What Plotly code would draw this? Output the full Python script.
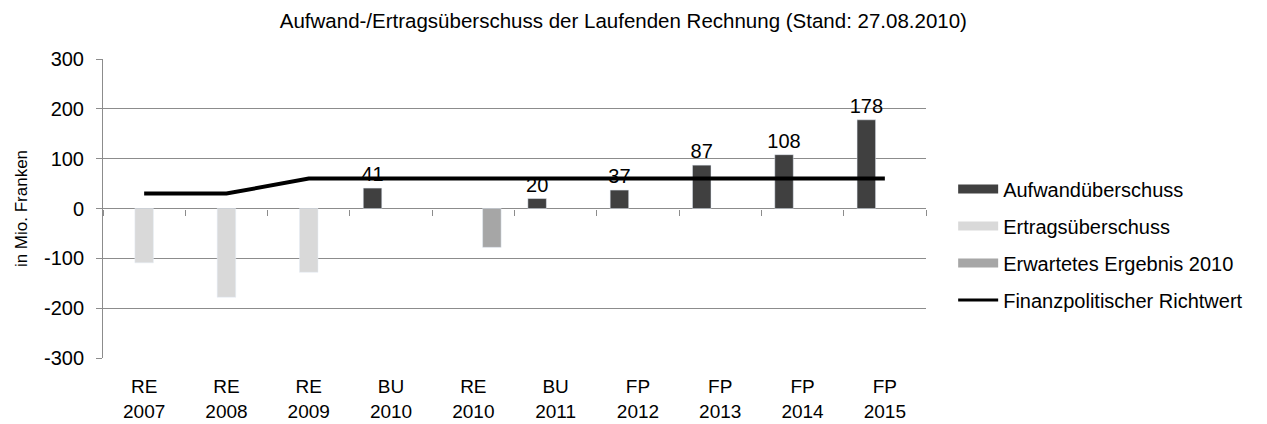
import plotly.graph_objects as go

categories = ["RE<br>2007", "RE<br>2008", "RE<br>2009", "BU<br>2010", "RE<br>2010",
              "BU<br>2011", "FP<br>2012", "FP<br>2013", "FP<br>2014", "FP<br>2015"]
aufwand = [None, None, None, 41, None, 20, 37, 87, 108, 178]
ertrag = [-109, -178, -128, None, None, None, None, None, None, None]
erwartet = [None, None, None, None, -78, None, None, None, None, None]
richtwert = [30, 30, 60, 60, 60, 60, 60, 60, 60, 60]
y_ticks = [-300, -200, -100, 0, 100, 200, 300]
y_ticktext = ["-300", "-200", "-100", "0", "100", "200", "300"]

names = ["Aufwandüberschuss", "Ertragsüberschuss", "Erwartetes Ergebnis 2010",
         "Finanzpolitischer Richtwert"]
colors = ["#404040", "#d9d9d9", "#a6a6a6", "#000000"]
FONT = "Liberation Sans, Arial, Helvetica, sans-serif"

fig = go.Figure()
fig.add_trace(go.Bar(x=categories, y=aufwand, marker_color=colors[0], showlegend=False,
                     text=[("" if v is None else str(v)) for v in aufwand],
                     textposition="outside", cliponaxis=False, constraintext="none",
                     textfont=dict(size=20, color="#000000", family=FONT)))
fig.add_trace(go.Bar(x=categories, y=ertrag, marker_color=colors[1], showlegend=False))
fig.add_trace(go.Bar(x=categories, y=erwartet, marker_color=colors[2], showlegend=False))
fig.add_trace(go.Scatter(x=categories, y=richtwert, mode="lines", showlegend=False,
                         line=dict(color=colors[3], width=4)))

# legend entries
for i, (n, c) in enumerate(zip(names, colors)):
    fig.add_trace(go.Scatter(x=[None], y=[None], mode="lines", name=n,
                             legendgroup=str(i),
                             line=dict(color=c, width=(3 if i == 3 else 9))))

# zero line tick marks
fig.add_trace(go.Scatter(x=[None], y=[None], xaxis="x2", showlegend=False))

fig.update_layout(
    width=1267, height=424,
    margin=dict(l=103, r=341, t=59, b=66),
    paper_bgcolor="white", plot_bgcolor="white",
    barmode="group", bargap=0.325, bargroupgap=0,
    font=dict(family=FONT, size=20, color="#000000"),
    title=dict(text="Aufwand-/Ertragsüberschuss der Laufenden Rechnung (Stand: 27.08.2010)",
               x=0.492, xanchor="center", y=0.95, yanchor="middle",
               font=dict(size=20.5, family=FONT)),
    yaxis=dict(range=[-300, 300], tickvals=y_ticks, ticktext=y_ticktext,
               showgrid=True, gridcolor="#8c8c8c",
               gridwidth=1, zeroline=True, zerolinecolor="#8c8c8c", zerolinewidth=1,
               showline=True, linecolor="#8c8c8c", linewidth=1, ticks="outside",
               ticklen=6, tickcolor="#8c8c8c", automargin=False, ticklabelstandoff=8,
               title=dict(text="in Mio. Franken", font=dict(size=17), standoff=12),
               tickfont=dict(size=20)),
    xaxis=dict(type="category", showgrid=False, zeroline=False, showline=False,
               ticks="", tickfont=dict(size=19), ticklabelstandoff=15,
               range=[-0.5, 9.5], automargin=False),
    xaxis2=dict(overlaying="x", anchor="free", position=0.5, range=[-0.5, 9.5],
                tickvals=[k + 0.5 for k in range(-1, 10)], showticklabels=False,
                ticks="outside", ticklen=6, tickcolor="#8c8c8c", showline=False,
                showgrid=False, zeroline=False, side="bottom", automargin=False),
    legend=dict(x=1.033, xanchor="left", y=0.38, yanchor="middle",
                traceorder="grouped", tracegroupgap=8, itemwidth=40,
                font=dict(size=20), bgcolor="rgba(0,0,0,0)"),
)

fig.write_html("out.html", post_script="document.body.style.margin='0';",
               config={"displayModeBar": False})
